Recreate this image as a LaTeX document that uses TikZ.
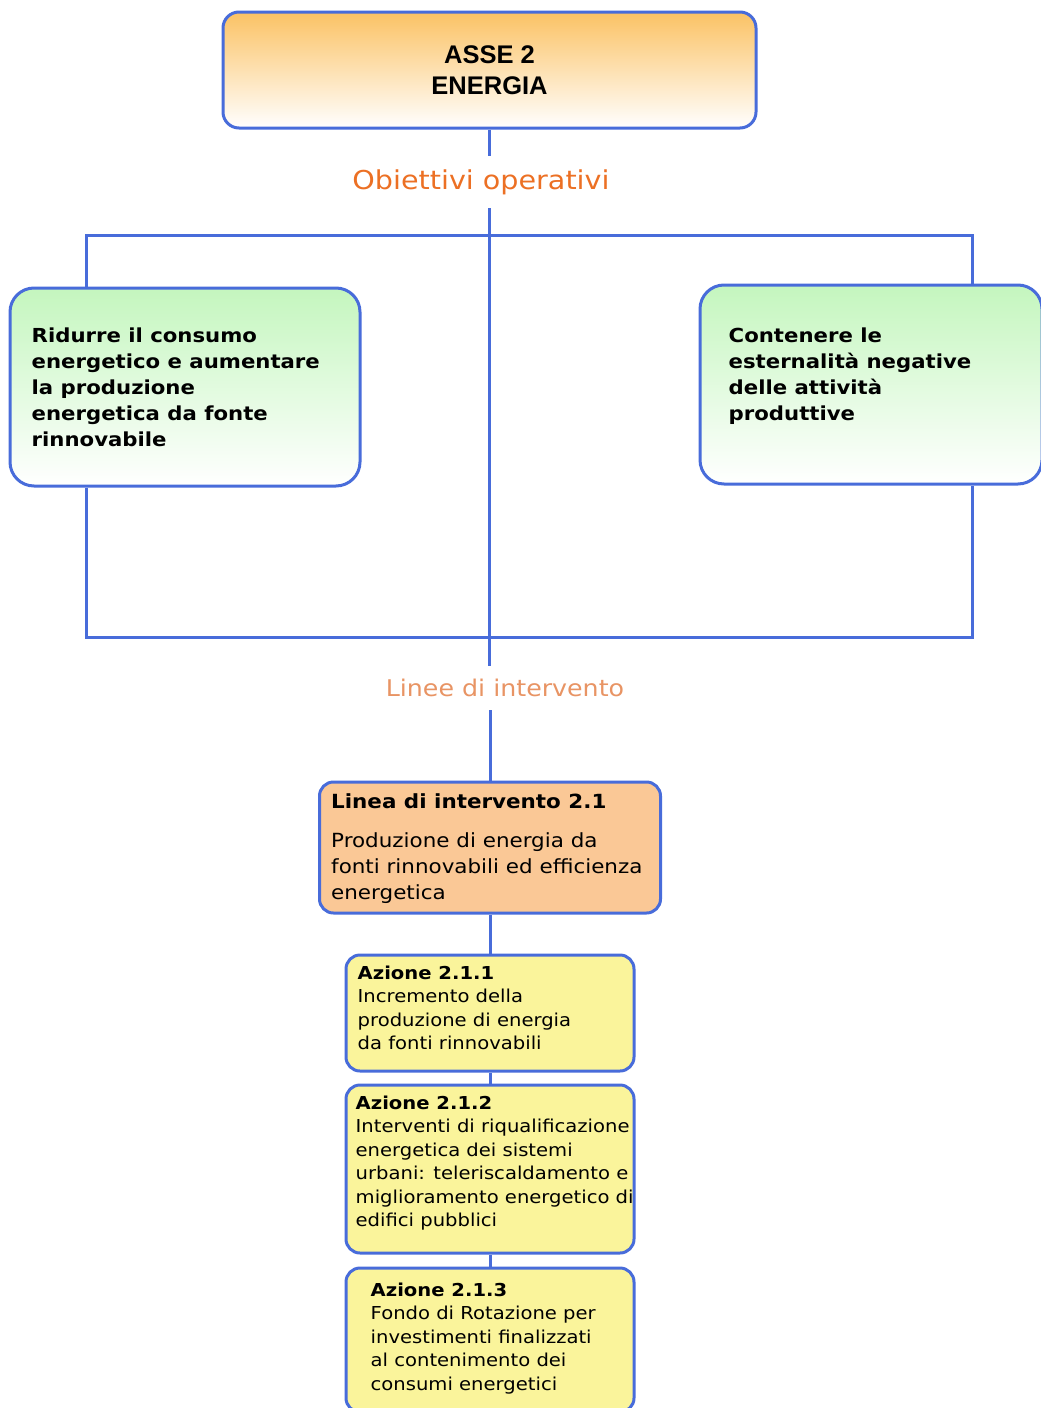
\documentclass[tikz,border=0pt]{standalone}
\usepackage{fontspec}
\setmainfont{DejaVu Sans}[FakeStretch=1.1]
\newfontfamily\arialfont{Liberation Sans}
\usetikzlibrary{positioning}
\definecolor{lineblue}{RGB}{72,108,218}
\definecolor{asseorange}{RGB}{251,194,100}
\definecolor{obgreen}{RGB}{196,246,190}
\definecolor{lineapeach}{RGB}{250,200,150}
\definecolor{azyellow}{RGB}{250,244,155}
\definecolor{labelorange}{RGB}{236,112,36}
\definecolor{labellight}{RGB}{232,148,100}
\tikzset{
	conn/.style={draw=lineblue,line width=3pt},
	box/.style={draw=lineblue,line width=3pt,inner sep=0pt},
	azbox/.style={box,rounded corners=14pt,fill=azyellow,minimum width=288pt},
	txt/.style={inner sep=0pt,align=left,text=black},
	aztxt/.style={txt,font=\fontsize{17.8}{23.5}\selectfont}
}

\begin{document}
\begin{tikzpicture}[x=1pt,y=-1pt]
	\useasboundingbox (0,0) rectangle (1041,1408);
	\clip (0,0) rectangle (1041,1408);
	%ASSE
	\node[box,rounded corners=16pt,top color=asseorange,bottom color=white,minimum width=533pt,minimum height=116pt,align=center,font=\arialfont\bfseries\fontsize{25.5}{31}\selectfont] (asse) at (489.5,70) {ASSE 2\\ENERGIA};
	%LABELS
	\node[inner sep=0pt,minimum height=52pt,text=labelorange,font=\fontsize{26}{30}\selectfont] (obiettivi) at (481,182) {Obiettivi operativi};
	\node[inner sep=0pt,minimum height=44pt,text=labellight,font=\fontsize{23}{26}\selectfont] (linee) at (505,688) {Linee di intervento};
	%OBIETTIVI
	\node[box,rounded corners=24pt,top color=obgreen,bottom color=white,minimum width=350pt,minimum height=198pt] (ob1) at (185,387) {};
	\node[txt,font=\bfseries\fontsize{19.3}{26}\selectfont,right=23pt of ob1.west] (ob1t) {Ridurre il consumo\\energetico e aumentare\\la produzione\\energetica da fonte\\rinnovabile};
	\node[box,rounded corners=24pt,top color=obgreen,bottom color=white,minimum width=342pt,minimum height=199pt] (ob2) at (871,384.5) {};
	\node[txt,font=\bfseries\fontsize{19.3}{26}\selectfont,right=30pt of ob2.west,yshift=8pt] (ob2t) {Contenere le\\esternalità negative\\delle attività\\produttive};
	%LINEA
	\node[box,rounded corners=14pt,fill=lineapeach,minimum width=341pt,minimum height=131pt] (linea21) at (490,847.5) {};
	\node[txt,font=\fontsize{19.5}{26}\selectfont,below right=13pt and 13pt of linea21.north west] (linea21t) {\textbf{Linea di intervento 2.1}\\[13pt]Produzione di energia da\\fonti rinnovabili ed efficienza\\energetica};
	%AZIONI
	\foreach \i/\y/\h in {1/1013/116,2/1169/168,3/1340/144}
		\node[azbox,minimum height=\h pt] (az\i) at (490,\y) {};
	\node[aztxt,below right=12pt and 13pt of az1.north west] (az1t) {\textbf{Azione 2.1.1}\\Incremento della\\produzione di energia\\da fonti rinnovabili};
	\node[aztxt,below right=12pt and 11pt of az2.north west] (az2t) {\textbf{Azione 2.1.2}\\Interventi di riqualificazione\\energetica dei sistemi\\urbani: teleriscaldamento e\\miglioramento energetico di\\edifici pubblici};
	\node[aztxt,below right=16pt and 26pt of az3.north west] (az3t) {\textbf{Azione 2.1.3}\\Fondo di Rotazione per\\investimenti finalizzati\\al contenimento dei\\consumi energetici};
	%CONNECTORS
	\coordinate (bustl) at (86,235);
	\coordinate (bustr) at (972,235);
	\coordinate (busbl) at (86,637);
	\coordinate (busbr) at (972,637);
	\draw[conn] (asse.south) -- (asse.south |- obiettivi.north);
	\draw[conn] (obiettivi.south -| asse.south) -- (linee.north -| asse.south);
	\draw[conn] (bustl |- ob1.north) -- (bustl) -- (bustr) -- (bustr |- ob2.north);
	\draw[conn] (busbl |- ob1.south) -- (busbl) -- (busbr) -- (busbr |- ob2.south);
	\draw[conn] (linea21.north |- linee.south) -- (linea21.north);
	\draw[conn] (linea21.south) -- (az1.north);
	\foreach \i/\j in {1/2,2/3}
		\draw[conn] (az\i.south) -- (az\j.north);
\end{tikzpicture}
\end{document}
